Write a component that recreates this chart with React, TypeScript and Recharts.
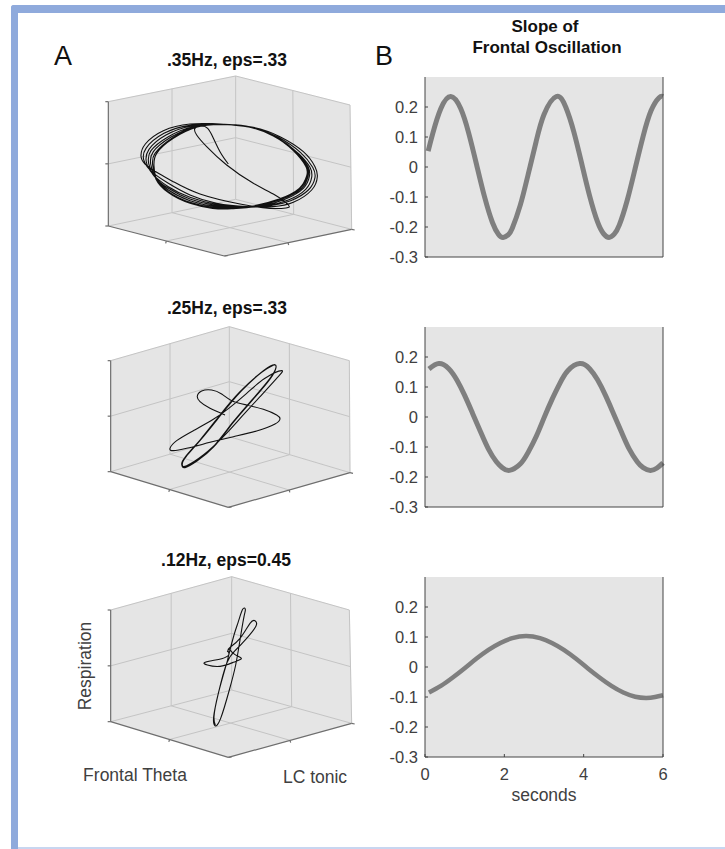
import { LineChart, Line, XAxis, YAxis, CartesianGrid, ScatterChart, Scatter } from "recharts";

type Pt = [number, number];

// slope traces: seconds / value
const fastT = [0.08, 0.2, 0.4, 0.65, 0.9, 1.1, 1.3, 1.5, 1.7, 1.85, 1.97, 2.1, 2.2, 2.4, 2.6, 2.8, 3.0, 3.31, 3.55, 3.75, 3.95, 4.15, 4.35, 4.5, 4.64, 4.77, 4.9, 5.1, 5.3, 5.5, 5.7, 5.9, 6];
const fastV = [0.053, 0.114, 0.195, 0.235, 0.195, 0.114, 0.008, -0.099, -0.185, -0.224, -0.235, -0.226, -0.204, -0.128, -0.025, 0.084, 0.175, 0.235, 0.199, 0.118, 0.012, -0.096, -0.183, -0.222, -0.235, -0.224, -0.193, -0.11, -0.004, 0.103, 0.188, 0.231, 0.235];
const midT = [0.1, 0.35, 0.6, 0.8, 1.0, 1.2, 1.4, 1.6, 1.8, 1.95, 2.13, 2.4, 2.6, 2.8, 3.0, 3.2, 3.4, 3.6, 3.9, 4.15, 4.35, 4.55, 4.75, 4.95, 5.15, 5.35, 5.5, 5.68, 5.85, 6];
const midV = [0.16, 0.178, 0.161, 0.124, 0.072, 0.012, -0.049, -0.107, -0.149, -0.169, -0.178, -0.157, -0.118, -0.066, -0.003, 0.058, 0.112, 0.154, 0.178, 0.161, 0.124, 0.072, 0.012, -0.049, -0.107, -0.149, -0.169, -0.178, -0.17, -0.153];
const slowT = [0.1, 0.4, 0.7, 1.0, 1.3, 1.6, 1.9, 2.2, 2.55, 2.9, 3.2, 3.5, 3.8, 4.1, 4.4, 4.7, 5.0, 5.3, 5.58, 5.8, 6];
const slowV = [-0.085, -0.063, -0.035, -0.004, 0.028, 0.057, 0.08, 0.096, 0.103, 0.096, 0.08, 0.057, 0.028, -0.004, -0.035, -0.063, -0.085, -0.099, -0.103, -0.1, -0.094];

const xTicks = [0, 2, 4, 6];
const yTicks = [-0.3, -0.2, -0.1, 0, 0.1, 0.2];

// phase portraits, in the units of each panel's view (see views below)
const orbitA: Pt[] = [
  [565, 372], [540, 335], [518, 290], [503, 265], [485, 258], [465, 265], [470, 285], [500, 320], [560, 375], [640, 430], [705, 465], [745, 495], [738, 504], [690, 505], [600, 492], [480, 462], [400, 425], [350, 397], [315, 372], [303, 348],
  [316, 312], [370, 272], [450, 252], [540, 252], [640, 262], [720, 290], [790, 335], [825, 380], [832, 410], [815, 450], [760, 487], [700, 500], [620, 500], [530, 490], [450, 465], [385, 430], [335, 395], [312, 362],
  [318, 325], [372, 280], [450, 256], [540, 252], [635, 262], [715, 292], [782, 338], [818, 382], [825, 412], [805, 450], [752, 482], [690, 497], [615, 500], [530, 493], [450, 472], [385, 440], [338, 402], [319, 366],
  [327, 328], [378, 285], [455, 258], [540, 253], [630, 262], [710, 292], [775, 340], [810, 382], [815, 412], [797, 448], [745, 480], [680, 497], [610, 502], [530, 497], [450, 477], [385, 445], [342, 408], [326, 370],
  [333, 332], [385, 290], [458, 260], [540, 253], [625, 260], [705, 290], [770, 338], [805, 382], [808, 410], [790, 445], [735, 478], [670, 497], [600, 503], [530, 500], [450, 482], [385, 450], [346, 412], [332, 372],
  [340, 335], [392, 292], [465, 260], [540, 253], [622, 260], [700, 288], [765, 335], [802, 382], [804, 410], [785, 445], [725, 478], [655, 498], [590, 505], [525, 503], [450, 487], [385, 455], [348, 415], [338, 375],
  [345, 340], [398, 293], [470, 260], [540, 253], [620, 259], [698, 286], [762, 333], [800, 380], [802, 408], [780, 445], [718, 478], [645, 498], [580, 506], [520, 504], [450, 490], [385, 458], [350, 418], [342, 378],
  [350, 340], [400, 295], [472, 261], [540, 253], [618, 258], [696, 285], [760, 332], [798, 380], [800, 408], [778, 445], [715, 478], [640, 498], [575, 506], [518, 505], [450, 490], [385, 458], [348, 418], [342, 378],
];
const orbitB: Pt[] = [
  [405, 285], [360, 265], [330, 245], [322, 228], [335, 213], [365, 210], [395, 222], [425, 242], [470, 255], [520, 268], [560, 285], [570, 297], [555, 312], [500, 333], [430, 350], [360, 367], [290, 385], [250, 392], [240, 385], [260, 362], [310, 332], [370, 298], [420, 262], [470, 220], [525, 175], [575, 152],
  [560, 175], [510, 230], [455, 290], [400, 350], [340, 405], [290, 437], [277, 435], [285, 412], [330, 360], [390, 285], [450, 215], [510, 160], [548, 135], [558, 142], [540, 175], [490, 235], [430, 305], [370, 380], [320, 422], [285, 442], [275, 432], [287, 410], [333, 357], [393, 283], [453, 213], [513, 158], [550, 135], [558, 143], [541, 176], [491, 236], [431, 306], [371, 381], [321, 423], [285, 443], [276, 433], [289, 409], [335, 356], [395, 282], [455, 212], [515, 157], [551, 135],
];
const orbitC: Pt[] = [
  [472, 246], [478, 238], [490, 250], [510, 262], [512, 268], [490, 277], [450, 289], [412, 285], [403, 278], [425, 272], [455, 266], [476, 255], [474, 243], [480, 232], [510, 205], [540, 160], [555, 152], [558, 168], [530, 205], [497, 240], [470, 280], [445, 370], [431, 440], [435, 467], [452, 445], [478, 360], [497, 285], [510, 210], [522, 140], [526, 118], [518, 118], [505, 155], [492, 195], [475, 260], [470, 280], [445, 370], [432, 440], [436, 465],
];

const GREY = "#e5e5e5";
const GRID = "#c4c4c4";
const AXIS = "#6e6e6e";
const TEXT = "#404040";
const FONT = "'Liberation Sans', Arial, sans-serif";

const mid = (a: Pt, b: Pt): Pt => [(a[0] + b[0]) / 2, (a[1] + b[1]) / 2];
const pts = (list: Pt[]) => list.map(([x, y]) => ({ x, y }));

interface Box {
  bb: Pt; l: Pt; r: Pt; f: Pt; tl: Pt; tb: Pt; tr: Pt;
}

function Portrait({ left, top, width, height, box, orbit }: { left: number; top: number; width: number; height: number; box: Box; orbit: Pt[] }) {
  const { bb, l, r, f, tl, tb, tr } = box;
  const walls = [[tl, tb, bb, l], [tb, tr, r, bb], [l, bb, r, f]];
  const grid: Pt[][] = [
    [mid(tl, l), mid(tb, bb), mid(tr, r)],
    [mid(tl, tb), mid(l, bb), mid(f, r)],
    [mid(tb, tr), mid(bb, r), mid(l, f)],
    [tl, tb, tr],
    [l, bb, r],
    [tb, bb],
    [tr, r],
  ];
  const axes: Pt[][] = [[tl, l], [l, f], [f, r]];
  const ml = mid(tl, l);
  const ticks: Pt[][] = [
    [tl, [tl[0] - 9, tl[1]]],
    [ml, [ml[0] - 9, ml[1]]],
    [l, [l[0] - 9, l[1]]],
    [mid(l, f), [mid(l, f)[0] - 2, mid(l, f)[1] + 7]],
    [f, [f[0] + 10, f[1] - 1]],
    [mid(f, r), [mid(f, r)[0] + 2, mid(f, r)[1] + 7]],
    [r, [r[0] + 9, r[1] + 2]],
  ];
  return (
    <div style={{ position: "absolute", left, top }}>
      <ScatterChart width={width} height={height} margin={{ top: 0, right: 0, bottom: 0, left: 0 }}>
        <XAxis type="number" dataKey="x" domain={[0, width * 3]} hide allowDataOverflow />
        <YAxis type="number" dataKey="y" domain={[0, height * 3]} reversed hide allowDataOverflow width={0} />
        {walls.map((w, i) => (
          <Scatter key={`w${i}`} data={pts(w)} line={{ fill: GREY, stroke: GREY, strokeWidth: 0.5 }} shape={() => null} isAnimationActive={false} />
        ))}
        {grid.map((g, i) => (
          <Scatter key={`g${i}`} data={pts(g)} line={{ fill: "none", stroke: GRID, strokeWidth: 1 }} shape={() => null} isAnimationActive={false} />
        ))}
        {axes.concat(ticks).map((a, i) => (
          <Scatter key={`a${i}`} data={pts(a)} line={{ fill: "none", stroke: AXIS, strokeWidth: 1.2 }} shape={() => null} isAnimationActive={false} />
        ))}
        <Scatter data={pts(orbit)} line={{ fill: "none", stroke: "#111", strokeWidth: 1.1 }} lineJointType="natural" shape={() => null} isAnimationActive={false} />
      </ScatterChart>
    </div>
  );
}

function Slope({ top, t, v, width, showX }: { top: number; t: number[]; v: number[]; width: number; showX?: boolean }) {
  const data = t.map((s, i) => ({ t: s, v: v[i] }));
  return (
    <div style={{ position: "absolute", left: 380, top: top - 5 }}>
      <LineChart width={293} height={215} data={data} margin={{ top: 5, right: 0, bottom: 0, left: 0 }} style={{ fontFamily: FONT }}>
        <CartesianGrid horizontal={false} vertical={false} fill={GREY} />
        <XAxis
          type="number"
          dataKey="t"
          domain={[0, 6]}
          ticks={xTicks}
          interval={0}
          height={30}
          stroke="#444"
          tick={showX ? { fill: TEXT, fontSize: 16.5 } : false}
          tickLine={!!showX}
          tickSize={-3}
          tickMargin={14}
        />
        <XAxis xAxisId="top" orientation="top" type="number" domain={[0, 6]} ticks={xTicks} interval={0} height={0} stroke="#444" tick={false} tickLine={!!showX} tickSize={-3} />
        <YAxis
          type="number"
          domain={[-0.3, 0.3]}
          ticks={yTicks}
          interval={0}
          width={45}
          stroke="#444"
          tick={{ fill: TEXT, fontSize: 16.5 }}
          tickSize={-3}
          tickMargin={10}
        />
        <YAxis yAxisId="r" orientation="right" type="number" domain={[-0.3, 0.3]} ticks={yTicks} interval={0} width={10} stroke="#444" tick={false} tickSize={-3} />
        <Line type="natural" dataKey="v" stroke="#7f7f7f" strokeWidth={width} dot={false} isAnimationActive={false} />
      </LineChart>
    </div>
  );
}

function Label({ x, y, size, bold, color, rotate, children }: { x: number; y: number; size: number; bold?: boolean; color?: string; rotate?: boolean; children: string }) {
  return (
    <div
      style={{
        position: "absolute",
        left: x,
        top: y,
        transform: `translate(-50%, -50%)${rotate ? " rotate(-90deg)" : ""}`,
        fontFamily: FONT,
        fontSize: size,
        fontWeight: bold ? 700 : 400,
        color: color ?? TEXT,
        whiteSpace: "nowrap",
        lineHeight: 1,
      }}
    >
      {children}
    </div>
  );
}

export default function App() {
  return (
    <div style={{ position: "absolute", left: 0, top: 0, width: 725, height: 849, overflow: "hidden", background: "#fff" }}>
      <div style={{ position: "absolute", left: 11, top: 5, width: 7, height: 844, background: "#8faadc", borderTopLeftRadius: 3 }} />
      <div style={{ position: "absolute", left: 11, top: 5, width: 714, height: 8, background: "#8faadc", borderTopLeftRadius: 3 }} />
      <div style={{ position: "absolute", left: 18, top: 847, width: 707, height: 2, background: "#c8d6f0" }} />

      <Portrait left={40} top={40} width={330} height={240} orbit={orbitA}
        box={{ bb: [587, 478], l: [205, 558], r: [935, 568], f: [553, 648], tl: [205, 185], tb: [587, 108], tr: [930, 195] }} />
      <Portrait left={90} top={320} width={280} height={200} orbit={orbitB}
        box={{ bb: [418, 350], l: [62, 455], r: [780, 458], f: [415, 562], tl: [62, 122], tb: [418, 20], tr: [778, 122] }} />
      <Portrait left={70} top={570} width={300} height={230} orbit={orbitC}
        box={{ bb: [485, 360], l: [122, 455], r: [845, 460], f: [475, 562], tl: [122, 120], tb: [485, 20], tr: [838, 120] }} />

      <Slope top={77} t={fastT} v={fastV} width={5} />
      <Slope top={327} t={midT} v={midV} width={5} />
      <Slope top={577} t={slowT} v={slowV} width={4.5} showX />

      <Label x={63} y={56} size={27} color="#111">A</Label>
      <Label x={384} y={56} size={27} color="#111">B</Label>
      <Label x={227} y={61} size={17.5} bold color="#111">.35Hz, eps=.33</Label>
      <Label x={227} y={309} size={17.5} bold color="#111">.25Hz, eps=.33</Label>
      <Label x={226} y={561} size={17.5} bold color="#111">.12Hz, eps=0.45</Label>
      <Label x={545} y={26} size={17} bold color="#111">Slope of</Label>
      <Label x={547} y={47} size={17} bold color="#111">Frontal Oscillation</Label>
      <Label x={86} y={666} size={17.5} rotate>Respiration</Label>
      <Label x={135} y={776} size={17.5}>Frontal Theta</Label>
      <Label x={315} y={778} size={17.5}>LC tonic</Label>
      <Label x={544} y={796} size={17.5}>seconds</Label>
    </div>
  );
}
